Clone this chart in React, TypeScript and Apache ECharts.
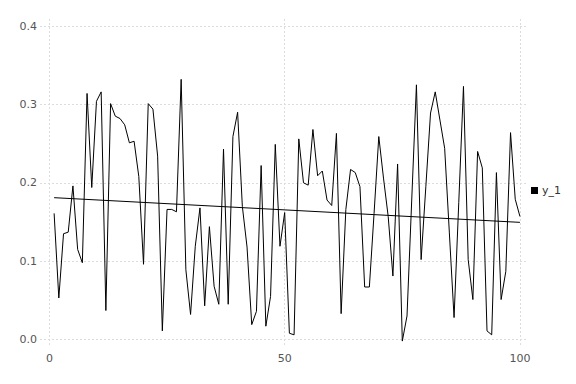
import React, { useEffect, useRef } from "react";
import * as echarts from "echarts";

const xValues: number[] = Array.from({ length: 100 }, (_, i) => i + 1);
const y1Values: number[] = [
  0.161, 0.053, 0.135, 0.137, 0.196, 0.115, 0.098, 0.314, 0.194, 0.304,
  0.316, 0.037, 0.301, 0.285, 0.282, 0.274, 0.251, 0.253, 0.208, 0.096,
  0.301, 0.294, 0.234, 0.011, 0.166, 0.166, 0.163, 0.332, 0.089, 0.032,
  0.119, 0.168, 0.043, 0.144, 0.068, 0.045, 0.243, 0.045, 0.259, 0.29,
  0.17, 0.118, 0.019, 0.036, 0.222, 0.017, 0.055, 0.249, 0.119, 0.162,
  0.008, 0.006, 0.256, 0.2, 0.197, 0.268, 0.209, 0.215, 0.178, 0.171,
  0.263, 0.033, 0.166, 0.217, 0.213, 0.195, 0.067, 0.067, 0.161, 0.259,
  0.206, 0.157, 0.081, 0.224, -0.002, 0.03, 0.178, 0.325, 0.102, 0.195,
  0.289, 0.316, 0.28, 0.244, 0.136, 0.028, 0.175, 0.323, 0.102, 0.051,
  0.24, 0.219, 0.011, 0.006, 0.213, 0.051, 0.087, 0.264, 0.179, 0.157,
];
const trendX: number[] = [1, 100];
const trendY: number[] = [0.181, 0.1495];
const xTicks: number[] = [0, 50, 100];
const yTicks: number[] = [0, 0.1, 0.2, 0.3, 0.4];

export default function App() {
  const ref = useRef<HTMLDivElement>(null);
  useEffect(() => {
    if (!ref.current) return;
    const chart = echarts.init(ref.current, null, { renderer: "svg" });
    const gridLine = {
      show: true,
      lineStyle: { color: "#dcdcdc", width: 1, type: [2, 2] as any },
    };
    const labelStyle = {
      color: "#555",
      fontSize: 11,
      fontFamily: "DejaVu Sans",
    };
    chart.setOption({
      animation: false,
      grid: { left: 40, right: 49, top: 19, bottom: 39, containLabel: false },
      legend: {
        show: true,
        data: [{ name: "y_1", icon: "rect" }],
        orient: "vertical",
        left: 526,
        top: 180,
        padding: 5,
        itemWidth: 7,
        itemHeight: 7,
        itemGap: 4,
        textStyle: { color: "#333", fontSize: 11, fontFamily: "DejaVu Sans", padding: [0, 0, 0, -1] },
      },
      xAxis: {
        type: "value",
        min: -2,
        max: 101.5,
        axisLine: { show: false },
        axisTick: { show: false, customValues: xTicks },
        axisLabel: { ...labelStyle, margin: 8, customValues: xTicks, formatter: (v: number) => String(v) },
        splitLine: gridLine,
      },
      yAxis: {
        type: "value",
        min: -0.007,
        max: 0.409,
        axisLine: { show: false },
        axisTick: { show: false, customValues: yTicks },
        axisLabel: { ...labelStyle, margin: 3, customValues: yTicks, formatter: (v: number) => v.toFixed(1) },
        splitLine: gridLine,
      },
      series: [
        {
          name: "y_1",
          type: "line",
          data: xValues.map((x, i) => [x, y1Values[i]]),
          symbol: "none",
          itemStyle: { color: "#000" },
          lineStyle: { color: "#000", width: 1 },
        },
        {
          name: "trend",
          type: "line",
          data: trendX.map((x, i) => [x, trendY[i]]),
          symbol: "none",
          itemStyle: { color: "#000" },
          lineStyle: { color: "#000", width: 1 },
        },
      ],
    });
    return () => chart.dispose();
  }, []);
  return <div ref={ref} style={{ width: 576, height: 384, position: "absolute", left: 0, top: 0 }} />;
}
